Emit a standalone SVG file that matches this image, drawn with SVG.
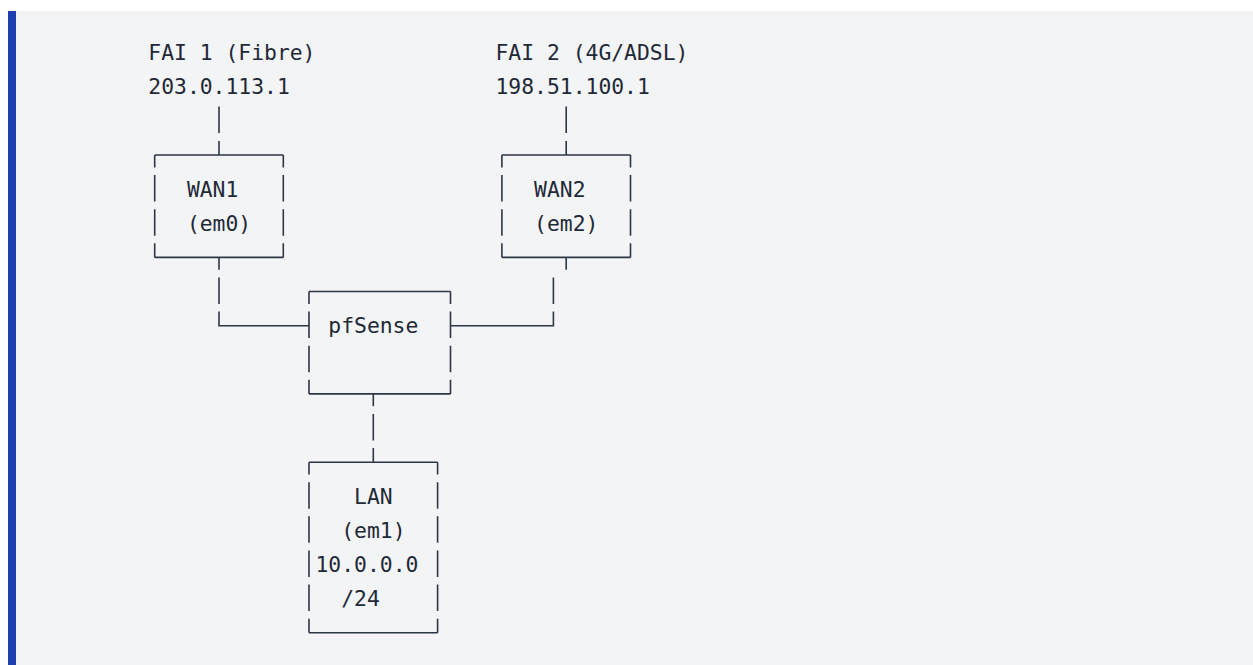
<svg xmlns="http://www.w3.org/2000/svg" width="1253" height="665" viewBox="0 0 1253 665">
<style>
.t{font-family:"DejaVu Sans Mono","Liberation Mono",monospace;font-size:21.36px;fill:#1f2937}
.ln{fill:none;stroke:#2d3644;stroke-width:1.6}
</style>
<rect x="0" y="0" width="1253" height="665" fill="#ffffff"/>
<rect x="8" y="11" width="1245" height="654" fill="#f3f4f6"/>
<rect x="8" y="11" width="8" height="654" fill="#1e40af"/>
<g id="fai1">
<text class="t" x="148.3" y="60">FAI 1 (Fibre)</text>
<text class="t" x="148.3" y="94.1">203.0.113.1</text>
</g>
<g id="fai2">
<text class="t" x="495.5" y="60">FAI 2 (4G/ADSL)</text>
<text class="t" x="495.5" y="94.1">198.51.100.1</text>
</g>
<g id="wan1">
<path class="ln" d="M154.7,155H283.3M154.7,257.4H283.3M154.7,155V167.4M154.7,175V201.5M154.7,209.2V235.7M154.7,243.3V257.4M283.3,155V167.4M283.3,175V201.5M283.3,209.2V235.7M283.3,243.3V257.4"/>
<text class="t" x="186.9" y="196.5">WAN1</text>
<text class="t" x="186.9" y="230.7">(em0)</text>
</g>
<g id="wan2">
<path class="ln" d="M501.9,155H630.5M501.9,257.4H630.5M501.9,155V167.4M501.9,175V201.5M501.9,209.2V235.7M501.9,243.3V257.4M630.5,155V167.4M630.5,175V201.5M630.5,209.2V235.7M630.5,243.3V257.4"/>
<text class="t" x="534.1" y="196.5">WAN2</text>
<text class="t" x="534.1" y="230.7">(em2)</text>
</g>
<g id="pfsense">
<path class="ln" d="M309,291.5H450.5M309,393.9H450.5M309,291.5V303.9M309,311.6V338.1M309,345.7V372.2M309,379.8V393.9M450.5,291.5V303.9M450.5,311.6V338.1M450.5,345.7V372.2M450.5,379.8V393.9"/>
<text class="t" x="328.3" y="333.1">pfSense</text>
</g>
<g id="lan">
<path class="ln" d="M309,462.2H437.6M309,632.8H437.6M309,462.2V474.6M309,482.2V508.7M309,516.3V542.8M309,550.5V577M309,584.6V611.1M309,618.7V632.8M437.6,462.2V474.6M437.6,482.2V508.7M437.6,516.3V542.8M437.6,550.5V577M437.6,584.6V611.1M437.6,618.7V632.8"/>
<text class="t" x="354.1" y="503.7">LAN</text>
<text class="t" x="341.2" y="537.8">(em1)</text>
<text class="t" x="315.5" y="572">10.0.0.0</text>
<text class="t" x="341.2" y="606.1">/24</text>
</g>
<g id="connectors">
<path class="ln" d="M219,106.6V133.1M219,140.9V155"/>
<path class="ln" d="M566.2,106.6V133.1M566.2,140.9V155"/>
<path class="ln" d="M219,257.4V269.8M219,277.4V303.9M219,311.6V325.7H309"/>
<path class="ln" d="M566.2,257.4V269.8M553.4,277.4V303.9M553.4,311.6V325.7H450.5"/>
<path class="ln" d="M373.3,393.9V406.3M373.3,414V440.5M373.3,448.1V462.2"/>
</g>
</svg>
